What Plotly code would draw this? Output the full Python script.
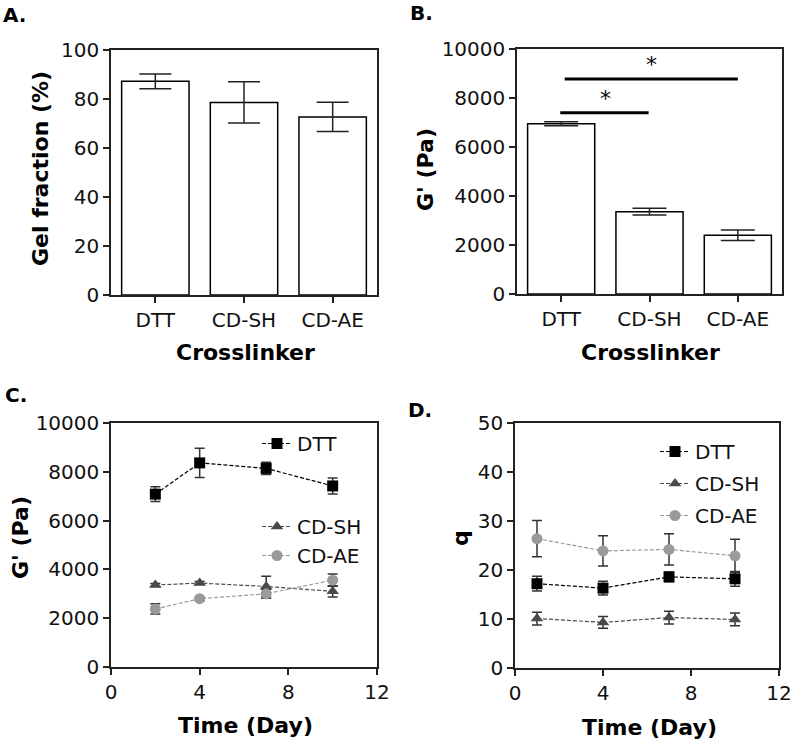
from plotly.subplots import make_subplots
import plotly.graph_objects as go

# ---- data ----
crosslinkers = ["DTT", "CD-SH", "CD-AE"]

gel_fraction = [87.2, 78.6, 72.7]
gel_fraction_err = [3.0, 8.4, 6.0]

modulus = [6950, 3360, 2400]
modulus_err = [80, 140, 215]

# significance brackets in panel B (category index start/end, height)
sig_start = [-0.01, 0.04]
sig_end = [0.99, 2.0]
sig_height = [7400, 8780]
sig_star_x = [0.5, 1.02]
sig_star_y = [8000, 9370]

# panel C: G' over time
days_c = [2, 4, 7, 10]
g_dtt = [7085, 8365, 8140, 7420]
g_dtt_err = [300, 600, 250, 330]
g_cdsh = [3360, 3440, 3300, 3100]
g_cdsh_err = [60, 60, 420, 230]
g_cdae = [2380, 2800, 3000, 3560]
g_cdae_err = [210, 80, 180, 250]

# panel D: swelling ratio q
days_d = [1, 4, 7, 10]
q_dtt = [17.2, 16.3, 18.6, 18.2]
q_dtt_err = [1.5, 1.4, 1.0, 1.5]
q_cdsh = [10.1, 9.3, 10.3, 9.9]
q_cdsh_err = [1.3, 1.2, 1.3, 1.3]
q_cdae = [26.4, 23.9, 24.2, 22.9]
q_cdae_err = [3.7, 3.1, 3.2, 3.4]

FONT = "DejaVu Sans"
W, H = 795, 744
AX_COLOR = "#222222"
DTT_COLOR = "#000000"
SH_COLOR = "#4a4a4a"
AE_COLOR = "#9a9a9a"
ERR_COLOR = "#333333"


def px(x):
    return x / W


def py(y):
    return (H - y) / H


fig = make_subplots(rows=2, cols=2)

# panel A bars
fig.add_trace(go.Bar(
    x=crosslinkers, y=gel_fraction, width=0.76,
    marker=dict(color="white", line=dict(color="black", width=1.5)),
    error_y=dict(type="data", array=gel_fraction_err, color="#222", thickness=1.5, width=16),
    showlegend=False), row=1, col=1)

# panel B bars
fig.add_trace(go.Bar(
    x=crosslinkers, y=modulus, width=0.76,
    marker=dict(color="white", line=dict(color="black", width=1.5)),
    error_y=dict(type="data", array=modulus_err, color="#222", thickness=1.5, width=17),
    showlegend=False), row=1, col=2)

series_c = [
    ("DTT", g_dtt, g_dtt_err, DTT_COLOR, "square", "legend"),
    ("CD-SH", g_cdsh, g_cdsh_err, SH_COLOR, "triangle-up", "legend2"),
    ("CD-AE", g_cdae, g_cdae_err, AE_COLOR, "circle", "legend2"),
]
for name, vals, errs, color, symbol, leg in series_c:
    fig.add_trace(go.Scatter(
        x=days_c, y=vals, name=name, mode="lines+markers",
        line=dict(color=color, width=1.2, dash="4px,2px"),
        marker=dict(color=color, symbol=symbol, size=11),
        error_y=dict(type="data", array=errs, color=ERR_COLOR, thickness=1.5, width=5),
        legend=leg, legendgroup="c" + name), row=2, col=1)

series_d = [
    ("DTT", q_dtt, q_dtt_err, DTT_COLOR, "square"),
    ("CD-SH", q_cdsh, q_cdsh_err, SH_COLOR, "triangle-up"),
    ("CD-AE", q_cdae, q_cdae_err, AE_COLOR, "circle"),
]
for name, vals, errs, color, symbol in series_d:
    fig.add_trace(go.Scatter(
        x=days_d, y=vals, name=name, mode="lines+markers",
        line=dict(color=color, width=1.2, dash="4px,2px"),
        marker=dict(color=color, symbol=symbol, size=11),
        error_y=dict(type="data", array=errs, color=ERR_COLOR, thickness=1.5, width=5),
        legend="legend3", legendgroup="d" + name), row=2, col=2)

axis_style = dict(
    showline=True, linecolor=AX_COLOR, linewidth=1.5, mirror=True,
    ticks="outside", ticklen=6, tickwidth=1.5, tickcolor=AX_COLOR,
    showgrid=False, zeroline=False, automargin=False, tickformat="d",
    tickfont=dict(family=FONT, size=20, color="#111"),
)

fig.update_xaxes(**axis_style)
fig.update_yaxes(**axis_style)

fig.update_layout(
    xaxis=dict(domain=[px(111), px(377)], range=[-0.5, 2.5]),
    yaxis=dict(domain=[py(295), py(50)], range=[0, 100], dtick=20),
    xaxis2=dict(domain=[px(517), px(782)], range=[-0.5, 2.5]),
    yaxis2=dict(domain=[py(294), py(49)], range=[0, 10000], dtick=2000),
    xaxis3=dict(domain=[px(111), px(377)], range=[0, 12], dtick=4),
    yaxis3=dict(domain=[py(667), py(423)], range=[0, 10000], dtick=2000),
    xaxis4=dict(domain=[px(515), px(779)], range=[0, 12], dtick=4),
    yaxis4=dict(domain=[py(668), py(423)], range=[0, 50], dtick=10),
)

# significance brackets and stars
for x0, x1, h in zip(sig_start, sig_end, sig_height):
    fig.add_shape(type="line", xref="x2", yref="y2", x0=x0, x1=x1, y0=h, y1=h,
                  line=dict(color="black", width=3))
for sx, sy in zip(sig_star_x, sig_star_y):
    fig.add_annotation(xref="x2", yref="y2", x=sx, y=sy, text="*", showarrow=False,
                       font=dict(family=FONT, size=22, color="black"))

# panel letters and axis titles
labels = [
    ("<b>A.</b>", 14, 15, 0, 20),
    ("<b>B.</b>", 421, 13, 0, 20),
    ("<b>C.</b>", 16, 395, 0, 20),
    ("<b>D.</b>", 420, 410, 0, 20),
    ("<b>Gel fraction (%)</b>", 40, 169, -90, 22),
    ("<b>Crosslinker</b>", 245, 352, 0, 22),
    ("<b>G' (Pa)</b>", 425, 170, -90, 22),
    ("<b>Crosslinker</b>", 650, 352, 0, 22),
    ("<b>G' (Pa)</b>", 20, 538, -90, 22),
    ("<b>Time (Day)</b>", 245, 725, 0, 22),
    ("<b>q</b>", 460, 538, -90, 22),
    ("<b>Time (Day)</b>", 649, 727, 0, 22),
]
for text, x, y, angle, size in labels:
    fig.add_annotation(xref="paper", yref="paper", x=px(x), y=py(y), text=text,
                       showarrow=False, textangle=angle, xanchor="center", yanchor="middle",
                       font=dict(family=FONT, size=size, color="black"))

legend_style = dict(font=dict(family=FONT, size=20, color="#111"), bgcolor="rgba(0,0,0,0)",
                    xanchor="left", yanchor="top", traceorder="grouped", itemwidth=30)
fig.update_layout(
    legend=dict(x=px(257), y=py(424), **legend_style),
    legend2=dict(x=px(257), y=py(507), tracegroupgap=0, **legend_style),
    legend3=dict(x=px(655), y=py(432), tracegroupgap=3, **legend_style),
)

fig.update_layout(
    width=W, height=H,
    margin=dict(l=0, r=0, t=0, b=0, autoexpand=False),
    paper_bgcolor="white", plot_bgcolor="white",
    font=dict(family=FONT, color="#111"),
)

# the page body has a default 8px margin; drop it so the figure fills the window
fig.write_html("out.html", config={"displayModeBar": False},
               post_script="document.body.style.margin='0';")
